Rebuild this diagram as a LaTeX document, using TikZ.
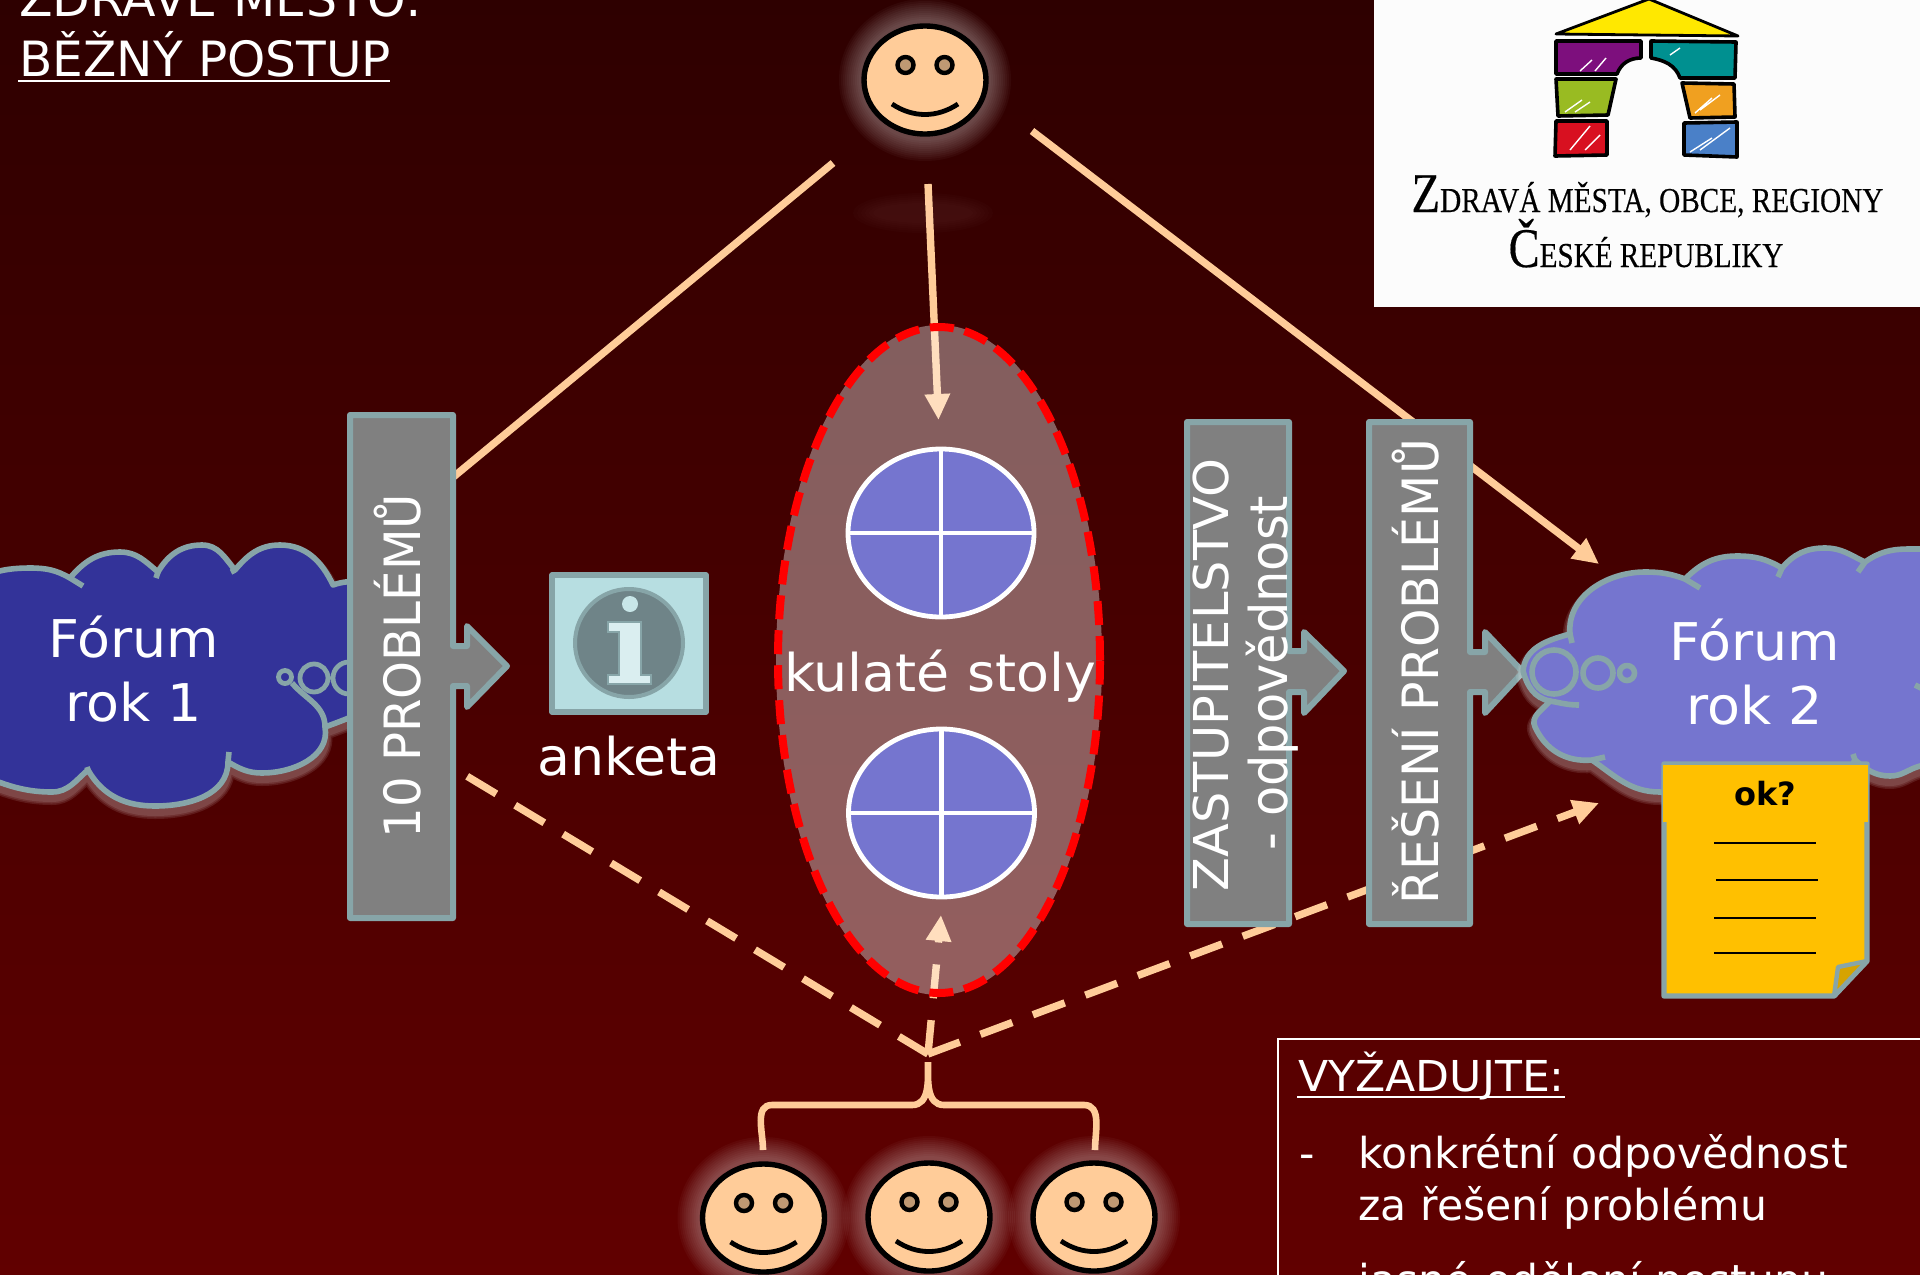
\documentclass[tikz,border=0pt]{standalone}
\usepackage{fontspec}
\setmainfont{DejaVu Sans}
\newfontfamily\verda[FakeStretch=1.035]{DejaVu Sans}
\newfontfamily\logofont[FakeBold=.35]{Liberation Serif}
\usetikzlibrary{arrows.meta,shapes.geometric}
\definecolor{peach}{HTML}{FFCC99}
\definecolor{edge}{HTML}{87A5A8}
\definecolor{boxgray}{HTML}{808080}
\definecolor{cloudA}{HTML}{333399}
\definecolor{cloudB}{HTML}{7575CF}
\definecolor{noteY}{HTML}{FFC000}
\tikzset{
  peachline/.style={draw=peach,line width=3.7pt},
  peachdash/.style={peachline,dash pattern=on 17pt off 11pt},
  tip/.style={-{Triangle[length=13pt,width=12pt]}},
  arrowbox/.style={draw=edge,fill=boxgray,line width=3pt,line join=round},
  cloudline/.style={draw=edge,line width=2.8pt,line join=round},
  txt/.style={text=white,inner sep=0pt,anchor=base,font=\verda\fontsize{26}{30}\selectfont},
  vtxt/.style={txt,rotate=90},
  facebody/.style={ellipse,draw=black,fill=peach,line width=2.7pt,minimum width=61pt,minimum height=54pt,inner sep=0pt},
  eye/.style={ellipse,draw=black,fill=peach!75!black,line width=2.2pt,minimum width=8pt,minimum height=8pt,inner sep=0pt},
  tablenode/.style={ellipse,draw=white,fill=cloudB,line width=2.4pt,minimum width=93pt,minimum height=84pt,inner sep=0pt},
  logostroke/.style={draw=black,line width=1.8pt,line join=round},
  scribble/.style={draw=white,line width=.7pt},
}
\newcommand{\halo}[2]{%
  \foreach \k in {0,2,...,20}{\fill[white,opacity=.032] (#1,#2) ellipse ({66+\k} and {61+\k});}}
\newcommand{\facenode}[3]{%
  \node[facebody] (#1) at (#2,#3) {};
  \begin{scope}[shift={(#2,#3)}]
    \node[eye] (#1-eyeL) at (-19.5,-15) {};
    \node[eye] (#1-eyeR) at (19.5,-15) {};
    \draw[black,line width=2.4pt] (-33,24) .. controls (-12,38) and (12,38) .. (33,24);
  \end{scope}}
\def\cloudone{(-40,600) to[out=60,in=180] (30,568) to[out=0,in=150] (70,578)
  to[out=50,in=180] (120,552) to[out=0,in=140] (158,572)
  to[out=60,in=180] (202,545) to[out=0,in=130] (235,570)
  to[out=50,in=180] (280,545) to[out=0,in=115] (333,585)
  to[out=20,in=90] (420,640) to[out=-90,in=20] (325,727)
  to[out=-80,in=0] (262,773) to[out=180,in=-30] (228,762)
  to[out=-90,in=0] (155,806) to[out=180,in=-60] (88,770)
  to[out=-140,in=0] (52,792) to[out=180,in=-20] (-40,767) -- cycle}
\def\cloudtwo{(1523,671) to[out=85,in=195] (1570,634)
  to[out=95,in=180] (1645,572) to[out=0,in=160] (1685,579)
  to[out=45,in=180] (1737,556) to[out=0,in=150] (1782,568)
  to[out=50,in=180] (1825,548) to[out=0,in=155] (1865,562)
  to[out=35,in=180] (1910,549) -- (1980,549) -- (1980,760)
  -- (1920,766) to[out=195,in=0] (1890,776) to[out=180,in=-40] (1855,760)
  to[out=-120,in=0] (1750,810) -- (1660,792) to[out=180,in=-35] (1592,760)
  to[out=185,in=-65] (1535,727) to[out=115,in=-130] (1550,701)
  to[out=170,in=-75] cycle}
\begin{document}
\begin{tikzpicture}[x=0.5pt,y=-0.5pt]
\useasboundingbox (0,0) rectangle (1920,1274);
\clip (0,0) rectangle (1920,1274);
\shade[top color=red!18!black,bottom color=red!38!black] (0,0) rectangle (1920,1274);
% named ends of the connectors
\coordinate (topL) at (833,163);   \coordinate (boxL) at (440,488);
\coordinate (topR) at (1032,131);  \coordinate (forumTop) at (1599,564);
\coordinate (topM) at (928,184);   \coordinate (stolTop) at (938.5,420);
\coordinate (meet) at (928,1054);  \coordinate (stolBot) at (941,915);
\coordinate (probEnd) at (465,775);\coordinate (forumBot) at (1599,803);
% connectors
\draw[peachline] (topL) -- (boxL);
\draw[peachline,tip] (topR) -- (forumTop);
\draw[peachline,tip] (topM) -- (stolTop);
\draw[peachdash] (meet) -- (probEnd);
\draw[peachdash,tip] (meet) -- (forumBot);
\draw[peachdash,tip] (meet) -- (stolBot);
\draw[peachline,line width=3.3pt] (763,1150) to[out=90,in=180] (772,1105) -- (912,1105)
  to[out=0,in=-90] (928,1062) to[out=-90,in=180] (944,1105) -- (1084,1105) to[out=0,in=90] (1095,1150);
% halos
\halo{925}{80}
\foreach \k in {0,2,...,10}{\fill[white,opacity=.012] (923,213) ellipse ({50+2*\k} and {10+\k});}
\halo{763.5}{1218}\halo{929}{1217}\halo{1094}{1217}
% faces
\facenode{faceTop}{925}{80}
\facenode{faceA}{763.5}{1218}
\facenode{faceB}{929}{1217}
\facenode{faceC}{1094}{1217}
% kulate stoly
\node[ellipse,fill=white,fill opacity=.37,draw=none,minimum width=163pt,minimum height=335pt,inner sep=0pt] (stoly) at (939,660) {};
\node[ellipse,draw=red,line width=4pt,dash pattern=on 12pt off 5.5pt,minimum width=161pt,minimum height=333pt,inner sep=0pt] (stolyEdge) at (939,660) {};
\node[tablenode] (tableA) at (941,533) {};
\draw[white,line width=2.4pt] (tableA.north) -- (tableA.south) (tableA.west) -- (tableA.east);
\node[tablenode] (tableB) at (941.5,813) {};
\draw[white,line width=2.4pt] (tableB.north) -- (tableB.south) (tableB.west) -- (tableB.east);
\node[txt] (stolytxt) at (940,691) {kulaté stoly};
% cloud 1
\foreach \w in {7,5.5,4}{\path[draw=white,opacity=.1,line width=\w pt,line join=round,shift={(0,6)}] \cloudone;}
\path[fill=cloudA,cloudline] \cloudone;
\draw[cloudline,line cap=butt] (70,578) -- (83,586) (158,572) -- (156,578) (235,570) -- (231,572)
  (228,762) -- (229,752) (88,770) -- (87,767) (292,683) to[out=-50,in=90] (325,727);
\draw[cloudline,line width=2.4pt] (285,677) circle (6.5) (314,678) circle (14) (349,678) circle (16);
\node[txt] (forumA) at (134,657) {Fórum};
\node[txt] (rokA) at (134,721) {rok 1};
% box 1
\path[arrowbox] (350,415) -- (453,415) -- (453,646) -- (467,646) -- (467,626) -- (507,666) -- (467,707) -- (467,686) -- (453,686) -- (453,918) -- (350,918) -- cycle;
\node[vtxt,font=\fontsize{25}{30}\selectfont] (problems) at (420,666) {\scalebox{.965}[1]{10 PROBLÉMŮ}};
% anketa
\path[draw=edge,fill={rgb,255:red,183;green,222;blue,225},line width=2.8pt,line join=round] (552,575) rectangle (706,712);
\node[ellipse,fill={rgb,255:red,111;green,132;blue,136},draw=edge,line width=2pt,minimum width=54pt,minimum height=54pt,inner sep=0pt] (infoOval) at (629,643) {};
\node[ellipse,fill={rgb,255:red,200;green,230;blue,232},minimum width=8pt,minimum height=8pt,inner sep=0pt] (infoDot) at (630,604) {};
\path[fill={rgb,255:red,218;green,238;blue,240},draw=edge,line width=1.2pt] (608,622) -- (641,622) -- (641,675) -- (651,675) -- (651,684) -- (608,684) -- (608,675) -- (619,675) -- (619,632) -- (608,632) -- cycle;
\node[txt] (anketa) at (629,775) {anketa};
% box 2
\path[arrowbox] (1187,422) -- (1289,422) -- (1289,651) -- (1304,651) -- (1304,632) -- (1344,671) -- (1304,713) -- (1304,692) -- (1289,692) -- (1289,924) -- (1187,924) -- cycle;
\node[vtxt,font=\fontsize{24}{30}\selectfont] (zast) at (1228,675) {\scalebox{1.03}[1]{ZASTUPITELSTVO}};
\node[vtxt,font=\fontsize{26}{30}\selectfont] (odp) at (1287,673) {\scalebox{.95}[1]{- odpovědnost}};
% box 3
\path[arrowbox] (1369,422) -- (1470,422) -- (1470,652) -- (1485,652) -- (1485,632) -- (1523,672) -- (1485,713) -- (1485,692) -- (1470,692) -- (1470,924) -- (1369,924) -- cycle;
\node[vtxt,font=\fontsize{25}{30}\selectfont] (reseni) at (1438,672) {\scalebox{.98}[1]{ŘEŠENÍ PROBLÉMŮ}};
% cloud 2
\foreach \w in {7,5.5,4}{\path[draw=white,opacity=.1,line width=\w pt,line join=round,shift={(0,6)}] \cloudtwo;}
\path[fill=cloudB,cloudline] \cloudtwo;
\draw[cloudline] (1570,634) -- (1572,643) (1685,579) -- (1700,588) (1782,568) -- (1778,577) (1865,562) -- (1858,572)
  (1550,701) to[out=-10,in=180] (1579,705) (1592,760) -- (1605,757) (1855,760) -- (1853,754) (1915,685) -- (1925,690);
\draw[cloudline] (1554,672) circle (22) (1598,673) circle (15) (1627,673) circle (7.5);
\node[txt] (forumB) at (1755,660) {Fórum};
\node[txt] (rokB) at (1755,724) {rok 2};
% note
\path[fill=noteY,draw=edge,line width=2.7pt,line join=round] (1664,764) -- (1867,764) -- (1867,961) -- (1834,996) -- (1664,996) -- cycle;
\fill[noteY] (1663,765) rectangle (1868,822);
\path[fill={rgb,255:red,214;green,163;blue,0},draw=edge,line width=2.2pt,line join=round] (1838,967) -- (1867,961) -- (1834,996) -- cycle;
\node[txt,text=black,font=\bfseries\fontsize{16}{20}\selectfont] (ok) at (1765,805) {ok?};
\coordinate (l1a) at (1714,843); \coordinate (l1b) at (1816,843);
\coordinate (l2a) at (1716,880); \coordinate (l2b) at (1818,880);
\coordinate (l3a) at (1714,918); \coordinate (l3b) at (1816,918);
\coordinate (l4a) at (1714,953); \coordinate (l4b) at (1816,953);
\draw[black,line width=.8pt] (l1a) -- (l1b) (l2a) -- (l2b) (l3a) -- (l3b) (l4a) -- (l4b);
% title
\node[txt,anchor=base west,font=\fontsize{24.5}{30}\selectfont] (title1) at (19,17) {ZDRAVÉ MĚSTO:};
\node[txt,anchor=base west,font=\fontsize{24.3}{30}\selectfont] (title2) at (19,76) {BĚŽNÝ POSTUP};
\draw[white,line width=1.3pt] (18,81) -- (390,81);
% logo
\fill[white!99!black] (1373.5,-2) rectangle (1925,307);
\path[fill={rgb,255:red,255;green,232;blue,0},draw=black,line width=1.4pt,line join=round] (1649,-1) -- (1738,36) -- (1556,34) -- cycle;
\path[fill={rgb,255:red,125;green,15;blue,125},logostroke] (1556,41) -- (1641,41) -- (1641,58) to[out=180,in=70] (1617,74) -- (1556,74) -- cycle;
\path[fill={rgb,255:red,0;green,144;blue,144},logostroke] (1651,41) -- (1736,42) -- (1735,78) -- (1680,78) to[out=110,in=-10] (1651,58) -- cycle;
\path[fill={rgb,255:red,153;green,187;blue,34},logostroke] (1556,79) -- (1616,79) -- (1608,115) -- (1558,116) -- cycle;
\path[fill={rgb,255:red,240;green,160;blue,32},logostroke] (1682,83) -- (1734,84) -- (1735,117) -- (1690,118) -- cycle;
\path[fill={rgb,255:red,216;green,16;blue,32},logostroke] (1556,121) -- (1607,121) -- (1607,155) -- (1555,156) -- cycle;
\path[fill={rgb,255:red,74;green,128;blue,200},logostroke] (1684,123) -- (1737,122) -- (1737,157) -- (1684,155) -- cycle;
\draw[scribble] (1580,71) -- (1592,60) (1595,71) -- (1606,58) (1565,112) -- (1582,100) (1575,112) -- (1590,102) (1570,150) -- (1590,126) (1585,150) -- (1600,135)
  (1670,55) -- (1680,48) (1700,110) -- (1720,95) (1695,113) -- (1712,98) (1700,150) -- (1730,128) (1690,152) -- (1712,138);
\node[inner sep=0pt,anchor=base,text=black,font=\logofont] (logo1) at (1647.5,212) {\scalebox{.836}[1]{\fontsize{28}{30}\selectfont Z\fontsize{17.5}{30}\selectfont DRAVÁ MĚSTA, OBCE, REGIONY}};
\node[inner sep=0pt,anchor=base,text=black,font=\logofont] (logo2) at (1646,267) {\scalebox{.833}[1]{\fontsize{28}{30}\selectfont Č\fontsize{17.5}{30}\selectfont ESKÉ REPUBLIKY}};
% request box
\path[draw=white,line width=.8pt] (1278,1300) -- (1278,1039) -- (1930,1039);
\tikzset{req/.style={txt,anchor=base west,font=\fontsize{21.3}{26}\selectfont}}
\node[req] (req0) at (1298,1091) {\scalebox{1.035}[1]{VYŽADUJTE:}};
\draw[white,line width=1.1pt] (1297,1097) -- (1565,1097);
\node[req] (dashA) at (1299,1168) {-};
\node[req] (req1) at (1358,1168) {konkrétní odpovědnost};
\node[req] (req2) at (1358,1220) {za řešení problému};
\node[req] (req3) at (1358,1295) {jasné odělení postupu};
\end{tikzpicture}
\end{document}
